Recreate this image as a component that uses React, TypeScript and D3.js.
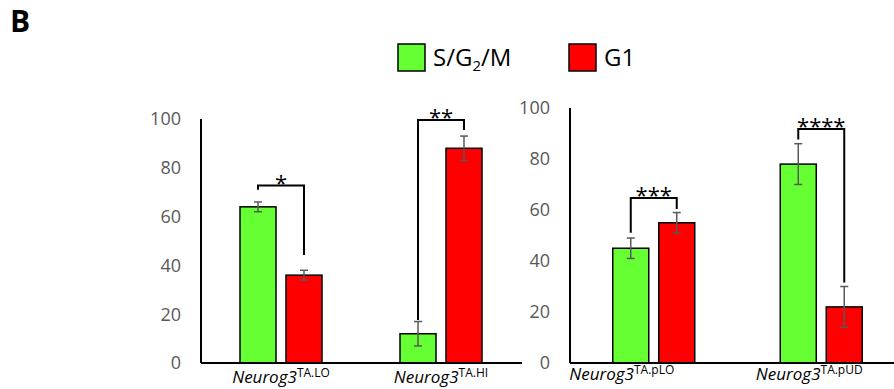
import React from "react";
import * as d3 from "d3";

// phases shown in each group
const phases = ["S/G2/M", "G1"];
const phaseColors = ["#66ff33", "#ff0000"];

// left panel
const leftCats = ["TA.LO", "TA.HI"];
const leftSG2M = [64, 12];
const leftSG2MErr = [2, 5];
const leftG1 = [36, 88];
const leftG1Err = [2, 5];
const leftSig = ["*", "**"];
const leftBracketTop = [72.7, 99.6];
const leftLegLeft = [71, 17.6];
const leftLegRight = [44.3, 95.5];

// right panel
const rightCats = ["TA.pLO", "TA.pUD"];
const rightSG2M = [45, 78];
const rightSG2MErr = [4, 8];
const rightG1 = [55, 22];
const rightG1Err = [4, 8];
const rightSig = ["***", "****"];
const rightBracketTop = [64.7, 91.8];
const rightLegLeft = [51.1, 87.6];
const rightLegRight = [60.4, 31.6];

const yTicks = [0, 20, 40, 60, 80, 100];

const FONT = "'Open Sans', sans-serif";

type PanelProps = {
  cats: string[];
  sg: number[];
  sgErr: number[];
  g1: number[];
  g1Err: number[];
  sig: string[];
  bTop: number[];
  legL: number[];
  legR: number[];
  x0: number;
  x1: number;
  yTop: number;
  yBase: number;
  labelShift: number[];
  labelY: number;
};

function Panel(p: PanelProps) {
  const x = d3.scaleBand<string>().domain(p.cats).range([p.x0, p.x1]);
  const inner = d3.scaleBand<string>().domain(phases).range([0, 82]).paddingInner(0.217);
  const y = d3.scaleLinear().domain([0, 100]).range([p.yBase, p.yTop]);
  const series = [
    { vals: p.sg, errs: p.sgErr },
    { vals: p.g1, errs: p.g1Err },
  ];
  const bw = inner.bandwidth();

  return (
    <g>
      {yTicks.map((t) => (
        <text key={t} x={p.x0 - 20} y={y(t)} dy="0.36em" textAnchor="end"
          fontFamily={FONT} fontSize={18} fill="#595959">{t}</text>
      ))}
      {p.cats.map((c, i) => {
        const cx = (x(c) as number) + x.bandwidth() / 2;
        return (
          <g key={c}>
            {series.map((s, k) => {
              const bx = cx - 41 + (inner(phases[k]) as number);
              const mid = bx + bw / 2;
              const v = s.vals[i];
              const e = s.errs[i];
              return (
                <g key={k}>
                  <rect x={bx} y={y(v)} width={bw} height={y(0) - y(v)}
                    fill={phaseColors[k]} stroke="#000" strokeWidth={1.5} />
                  <g stroke="#595959" strokeWidth={1.5}>
                    <line x1={mid} x2={mid} y1={y(v + e)} y2={y(v - e)} />
                    <line x1={mid - 4} x2={mid + 4} y1={y(v + e)} y2={y(v + e)} />
                    <line x1={mid - 4} x2={mid + 4} y1={y(v - e)} y2={y(v - e)} />
                  </g>
                </g>
              );
            })}
            {(() => {
              const lx = cx - 41 + (inner(phases[0]) as number) + bw / 2;
              const rx = cx - 41 + (inner(phases[1]) as number) + bw / 2;
              const top = y(p.bTop[i]);
              return (
                <g>
                  <path d={`M${lx},${y(p.legL[i])}V${top}H${rx}V${y(p.legR[i])}`}
                    fill="none" stroke="#000" strokeWidth={2} />
                  <text x={(lx + rx) / 2} y={top + 5} textAnchor="middle"
                    fontFamily={FONT} fontSize={22} fill="#000">{p.sig[i]}</text>
                </g>
              );
            })()}
            <text x={cx + p.labelShift[i]} y={p.labelY} textAnchor="middle"
              fontFamily={FONT} fontSize={17} fill="#000">
              <tspan fontStyle="italic">Neurog3</tspan>
              <tspan fontSize={12} dy={-6}>{c}</tspan>
            </text>
          </g>
        );
      })}
      <line x1={p.x0} x2={p.x0} y1={p.yTop} y2={p.yBase} stroke="#000" strokeWidth={2} />
      <line x1={p.x0} x2={p.x1 + 1} y1={p.yBase} y2={p.yBase} stroke="#000" strokeWidth={2} />
    </g>
  );
}

export default function App() {
  return (
    <svg width={894} height={389} style={{ position: "absolute", left: 0, top: 0 }}>
      <rect width={894} height={389} fill="#fff" />
      <text x={10} y={32} fontFamily={FONT} fontWeight="bold" fontSize={30} fill="#000">B</text>
      {phases.map((ph, k) => {
        const lx = [398, 569][k];
        return (
          <g key={ph}>
            <rect x={lx} y={44} width={27} height={27} fill={phaseColors[k]} stroke="#000" strokeWidth={1.5} />
            <text x={lx + 35} y={66} fontFamily={FONT} fontSize={24} fill="#000">
              {k === 0 ? (
                <>
                  S/G<tspan fontSize={15} dy={5}>2</tspan><tspan dy={-5}>/M</tspan>
                </>
              ) : ph}
            </text>
          </g>
        );
      })}
      <Panel cats={leftCats} sg={leftSG2M} sgErr={leftSG2MErr} g1={leftG1} g1Err={leftG1Err}
        sig={leftSig} bTop={leftBracketTop} legL={leftLegLeft} legR={leftLegRight}
        x0={201} x1={521} yTop={119} yBase={363} labelShift={[0, 0]} labelY={383} />
      <Panel cats={rightCats} sg={rightSG2M} sgErr={rightSG2MErr} g1={rightG1} g1Err={rightG1Err}
        sig={rightSig} bTop={rightBracketTop} legL={rightLegLeft} legR={rightLegRight}
        x0={570} x1={905} yTop={108} yBase={363} labelShift={[-32, -12]} labelY={380} />
    </svg>
  );
}
